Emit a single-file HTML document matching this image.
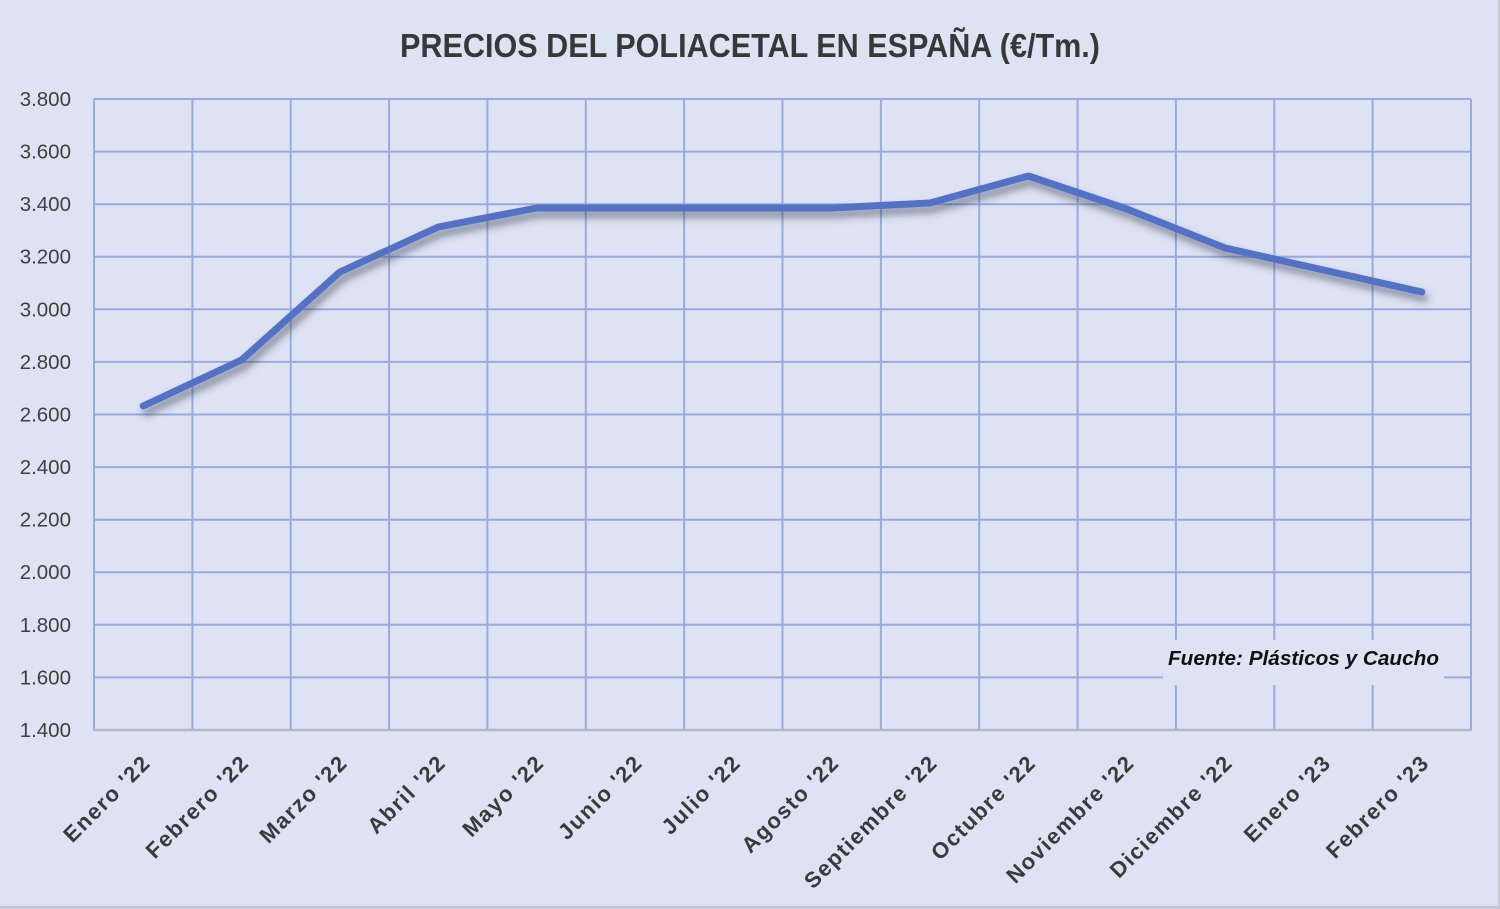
<!DOCTYPE html>
<html>
<head>
<meta charset="utf-8">
<style>
html,body{margin:0;padding:0;background:#dde3f3;}
svg{display:block;}
</style>
</head>
<body>
<svg width="1500" height="909" viewBox="0 0 1500 909" xmlns="http://www.w3.org/2000/svg">
<defs>
<filter id="sh" x="-10%" y="-20%" width="120%" height="160%">
<feDropShadow dx="3" dy="6" stdDeviation="4" flood-color="#30354a" flood-opacity="0.55"/>
</filter>
</defs>
<rect x="0" y="0" width="1500" height="909" fill="#dde3f3"/>
<line x1="1499" y1="0" x2="1499" y2="909" stroke="#c4c8d2" stroke-width="2"/>
<line x1="0" y1="907.5" x2="1500" y2="907.5" stroke="#c4c8d2" stroke-width="3"/>

<text x="400" y="57" font-family="Liberation Sans, sans-serif" font-weight="bold" font-size="33" fill="#383838" textLength="700" lengthAdjust="spacingAndGlyphs">PRECIOS DEL POLIACETAL  EN ESPAÑA (€/Tm.)</text>

<g stroke="#9aaadc" stroke-width="2" fill="none">
<line x1="94" y1="99" x2="1471" y2="99"/>
<line x1="94" y1="151.6" x2="1471" y2="151.6"/>
<line x1="94" y1="204.2" x2="1471" y2="204.2"/>
<line x1="94" y1="256.7" x2="1471" y2="256.7"/>
<line x1="94" y1="309.3" x2="1471" y2="309.3"/>
<line x1="94" y1="361.9" x2="1471" y2="361.9"/>
<line x1="94" y1="414.5" x2="1471" y2="414.5"/>
<line x1="94" y1="467.1" x2="1471" y2="467.1"/>
<line x1="94" y1="519.7" x2="1471" y2="519.7"/>
<line x1="94" y1="572.2" x2="1471" y2="572.2"/>
<line x1="94" y1="624.8" x2="1471" y2="624.8"/>
<line x1="94" y1="677.4" x2="1471" y2="677.4"/>
<line x1="94" y1="99" x2="94" y2="730"/>
<line x1="192.4" y1="99" x2="192.4" y2="730"/>
<line x1="290.7" y1="99" x2="290.7" y2="730"/>
<line x1="389.1" y1="99" x2="389.1" y2="730"/>
<line x1="487.4" y1="99" x2="487.4" y2="730"/>
<line x1="585.8" y1="99" x2="585.8" y2="730"/>
<line x1="684.1" y1="99" x2="684.1" y2="730"/>
<line x1="782.5" y1="99" x2="782.5" y2="730"/>
<line x1="880.9" y1="99" x2="880.9" y2="730"/>
<line x1="979.2" y1="99" x2="979.2" y2="730"/>
<line x1="1077.6" y1="99" x2="1077.6" y2="730"/>
<line x1="1175.9" y1="99" x2="1175.9" y2="730"/>
<line x1="1274.3" y1="99" x2="1274.3" y2="730"/>
<line x1="1372.6" y1="99" x2="1372.6" y2="730"/>
<line x1="1471" y1="99" x2="1471" y2="730"/>
</g>
<line x1="93" y1="730" x2="1472" y2="730" stroke="#b4b8c4" stroke-width="2.5"/>

<rect x="1163" y="640" width="281" height="45" fill="#dde3f3"/>
<text x="1168" y="665" font-family="Liberation Sans, sans-serif" font-weight="bold" font-style="italic" font-size="20" fill="#111" textLength="271" lengthAdjust="spacingAndGlyphs">Fuente: Plásticos y Caucho</text>

<g font-family="Liberation Sans, sans-serif" font-size="20.5" fill="#404040" text-anchor="end">
<text x="71" y="106">3.800</text>
<text x="71" y="158.6">3.600</text>
<text x="71" y="211.2">3.400</text>
<text x="71" y="263.7">3.200</text>
<text x="71" y="316.3">3.000</text>
<text x="71" y="368.9">2.800</text>
<text x="71" y="421.5">2.600</text>
<text x="71" y="474.1">2.400</text>
<text x="71" y="526.7">2.200</text>
<text x="71" y="579.2">2.000</text>
<text x="71" y="631.8">1.800</text>
<text x="71" y="684.4">1.600</text>
<text x="71" y="737">1.400</text>
</g>

<polyline filter="url(#sh)" fill="none" stroke="#5272c6" stroke-width="7" stroke-linejoin="round" stroke-linecap="round"
points="143.2,406 241.5,360 339.9,272 438.3,227 536.6,208 635,208 733.3,208 831.7,208 930,203 1028.4,176 1126.8,209 1225.1,248 1323.5,270 1421.8,292"/>

<g font-family="Liberation Sans, sans-serif" font-weight="bold" font-size="22" fill="#3a3a3a" text-anchor="end" letter-spacing="1.6">
<text transform="translate(152,764) rotate(-45)">Enero '22</text>
<text transform="translate(250.5,764) rotate(-45)">Febrero '22</text>
<text transform="translate(349,764) rotate(-45)">Marzo '22</text>
<text transform="translate(447.3,764) rotate(-45)">Abril '22</text>
<text transform="translate(545.6,764) rotate(-45)">Mayo '22</text>
<text transform="translate(644,764) rotate(-45)">Junio '22</text>
<text transform="translate(742.3,764) rotate(-45)">Julio '22</text>
<text transform="translate(840.7,764) rotate(-45)">Agosto '22</text>
<text transform="translate(939,764) rotate(-45)">Septiembre '22</text>
<text transform="translate(1037.4,764) rotate(-45)">Octubre '22</text>
<text transform="translate(1135.8,764) rotate(-45)">Noviembre '22</text>
<text transform="translate(1234.1,764) rotate(-45)">Diciembre '22</text>
<text transform="translate(1332.5,764) rotate(-45)">Enero '23</text>
<text transform="translate(1430.8,764) rotate(-45)">Febrero '23</text>
</g>
</svg>
</body>
</html>
